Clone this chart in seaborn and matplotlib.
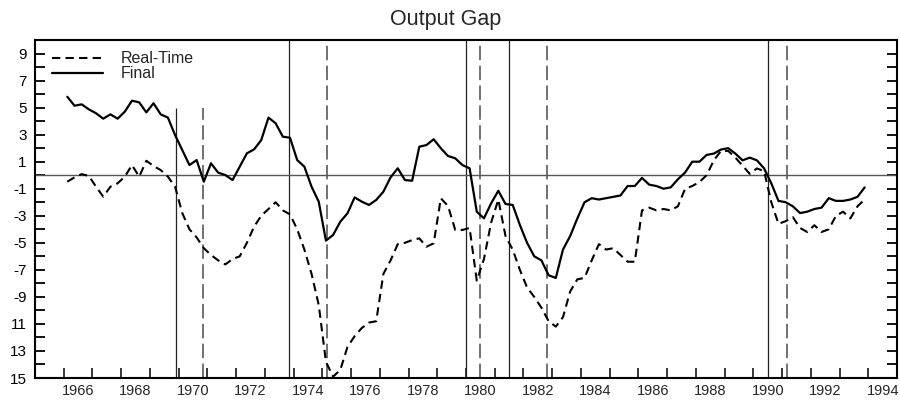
import numpy as np
import pandas as pd
import matplotlib
matplotlib.use("Agg")
import matplotlib.pyplot as plt
import seaborn as sns

# Quarterly output gap estimates, 1966Q1-1993Q4 (percent)
final_gap = [
    5.80, 5.14, 5.24, 4.87,    # 1966
    4.58, 4.18, 4.50, 4.18,    # 1967
    4.70, 5.51, 5.39, 4.65,    # 1968
    5.32, 4.50, 4.26, 2.97,    # 1969
    1.86, 0.75, 1.12, -0.48,   # 1970
    0.88, 0.19, 0.01, -0.36,   # 1971
    0.63, 1.62, 1.91, 2.60,    # 1972
    4.26, 3.84, 2.85, 2.77,    # 1973
    1.12, 0.63, -0.85, -1.96,  # 1974
    -4.84, -4.42, -3.44, -2.82,  # 1975
    -1.64, -1.96, -2.20, -1.83,  # 1976
    -1.22, -0.16, 0.51, -0.36,   # 1977
    -0.41, 2.11, 2.23, 2.66,     # 1978
    1.99, 1.42, 1.25, 0.75,      # 1979
    0.51, -2.70, -3.19, -2.08,   # 1980
    -1.15, -2.13, -2.20, -3.68,  # 1981
    -5.00, -6.00, -6.30, -7.40,  # 1982
    -7.60, -5.50, -4.50, -3.20,  # 1983
    -2.00, -1.70, -1.80, -1.70,  # 1984
    -1.60, -1.50, -0.80, -0.80,  # 1985
    -0.20, -0.70, -0.80, -1.00,  # 1986
    -0.90, -0.30, 0.20, 1.00,    # 1987
    1.00, 1.50, 1.60, 1.90,      # 1988
    2.00, 1.60, 1.10, 1.30,      # 1989
    1.10, 0.50, -0.60, -1.90,    # 1990
    -2.00, -2.30, -2.80, -2.70,  # 1991
    -2.50, -2.40, -1.70, -1.90,  # 1992
    -1.90, -1.80, -1.60, -0.90,  # 1993
]

realtime_gap = [
    -0.48, -0.16, 0.08, -0.06,   # 1966
    -0.85, -1.59, -0.85, -0.60,  # 1967
    -0.11, 0.75, -0.11, 1.07,    # 1968
    0.68, 0.38, -0.11, -0.85,    # 1969
    -2.80, -4.00, -4.60, -5.40,  # 1970
    -5.90, -6.30, -6.60, -6.20,  # 1971
    -6.00, -5.00, -3.80, -3.00,  # 1972
    -2.50, -2.00, -2.60, -2.90,  # 1973
    -4.00, -5.50, -7.30, -9.60,  # 1974
    -13.80, -14.90, -14.40, -12.70,  # 1975
    -11.90, -11.30, -10.90, -10.80,  # 1976
    -7.30, -6.30, -5.10, -5.00,  # 1977
    -4.80, -4.67, -5.29, -5.04,  # 1978
    -1.71, -2.28, -4.05, -4.05,  # 1979
    -3.90, -7.80, -6.20, -3.50,  # 1980
    -1.80, -4.50, -5.50, -7.00,  # 1981
    -8.30, -9.00, -9.80, -10.80,  # 1982
    -11.20, -10.50, -8.60, -7.70,  # 1983
    -7.60, -6.30, -5.10, -5.50,  # 1984
    -5.40, -5.90, -6.40, -6.40,  # 1985
    -2.60, -2.40, -2.60, -2.50,  # 1986
    -2.60, -2.30, -1.00, -0.80,  # 1987
    -0.50, 0.00, 1.10, 1.80,     # 1988
    1.80, 1.30, 0.70, 0.10,      # 1989
    0.50, 0.30, -2.00, -3.60,    # 1990
    -3.40, -3.10, -3.90, -4.20,  # 1991
    -3.70, -4.20, -4.00, -3.00,  # 1992
    -2.70, -3.20, -2.30, -1.80,  # 1993
]

# NBER business-cycle turning points (decimal years)
peaks = [1969 + 11 / 12, 1973 + 10 / 12, 1980 + 0 / 12, 1981 + 6 / 12, 1990 + 6 / 12]
troughs = [1970 + 10 / 12, 1975 + 2 / 12, 1980 + 6 / 12, 1982 + 10 / 12, 1991 + 2 / 12]

y_ticks = list(range(-15, 10, 2))
y_tick_labels = ["15", "13", "11", "-9", "-7", "-5", "-3", "-1", "1", "3", "5", "7", "9"]
x_label_years = list(range(1966, 1995, 2))

quarters = pd.period_range("1966Q1", "1993Q4", freq="Q")
t = np.asarray(quarters.year + (quarters.quarter - 0.5) / 4, dtype=float)
df = pd.DataFrame({"date": t, "Final": final_gap, "Real-Time": realtime_gap})

sns.set_style("ticks")
plt.rcParams["font.family"] = ["Liberation Sans", "DejaVu Sans"]

fig = plt.figure(figsize=(9.0, 4.01), dpi=100)
ax = fig.add_axes([35 / 900, 1 - 378 / 401, 862 / 900, 338 / 401])

# recession markers: the first cycle only reaches partway up
for i, p in enumerate(peaks):
    top = 5.0 if i == 0 else 10.0
    ax.vlines(p, -15, top, color="#222222", lw=0.9, zorder=1)
for i, tr in enumerate(troughs):
    top = 5.0 if i == 0 else 10.0
    ax.vlines(tr, -15, top, color="#666666", lw=1.3, linestyles=(0, (8, 3)), zorder=1)

ax.axhline(0, color="#555555", lw=1.0, zorder=1)

sns.lineplot(data=df, x="date", y="Real-Time", ax=ax, color="black", lw=1.5,
             linestyle=(0, (4, 2.5)), label="Real-Time", zorder=3)
sns.lineplot(data=df, x="date", y="Final", ax=ax, color="black", lw=1.6,
             label="Final", zorder=3)

ax.set_xlim(1965, 1995)
ax.set_ylim(-15, 10)
ax.set_xlabel("")
ax.set_ylabel("")

ax.set_yticks(y_ticks)
ax.set_yticklabels(y_tick_labels)
ax.set_yticks(list(range(-14, 10, 2)), minor=True)
ax.tick_params(axis="y", which="both", direction="in", left=True, right=True,
               length=7, width=1.3, labelsize=11, pad=6, colors="black")

ax.set_xticks(list(range(1966, 1995)))
ax.set_xticklabels([])
ax.set_xticks([y + 0.5 for y in x_label_years], minor=True)
ax.set_xticklabels([str(y) for y in x_label_years], minor=True)
ax.tick_params(axis="x", which="major", direction="in", length=7, width=1.3)
ax.tick_params(axis="x", which="minor", length=0, labelsize=10.5, pad=4)

for s in ax.spines.values():
    s.set_visible(True)
    s.set_linewidth(1.5)
    s.set_color("black")

leg = ax.legend(loc="upper left", frameon=False, fontsize=11.5, handlelength=3.2,
                handletextpad=1.1, labelspacing=0.0, borderaxespad=0.0,
                bbox_to_anchor=(0.012, 0.985))

fig.text(446 / 900, 1 - 20 / 401, "Output Gap", ha="center", va="center", fontsize=15.5)

fig.savefig("out.png", dpi=100)
